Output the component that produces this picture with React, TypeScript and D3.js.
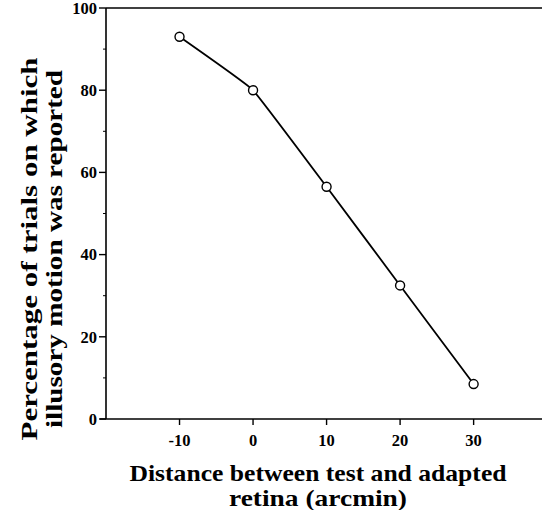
import * as d3 from 'd3'
import * as React from 'react'

// distance between test and adapted retina (arcmin)
const distances = [-10, 0, 10, 20, 30]
// percentage of trials on which illusory motion was reported
const percentages = [93, 80, 56.5, 32.5, 8.5]
const xTickValues = [-10, 0, 10, 20, 30]
const yTickValues = [0, 20, 40, 60, 80, 100]
const yMinorTicks = [10, 30, 50, 70, 90]

const W = 542
const H = 510
const serif = '"Liberation Serif", "DejaVu Serif", serif'

export default function App() {
  const x = d3.scaleLinear().domain([-20, 39.3]).range([106, 542])
  const y = d3.scaleLinear().domain([0, 100]).range([419, 8])

  const pts: [number, number][] = distances.map((d, i) => [x(d), y(percentages[i])])
  // slight bend like the hand drawn original
  const line = d3.line().curve(d3.curveCardinal.tension(0.75))(pts) || ''

  const x0 = x(-20)
  const y0 = y(0)

  return (
    <svg width={W} height={H} style={{ position: 'absolute', left: 0, top: 0, background: '#fff' }}
      fontFamily={serif}>
      {/* frame */}
      <line x1={x0} x2={x0} y1={y(100)} y2={y0} stroke="#000" strokeWidth={1.6} />
      <line x1={x0 - 6} x2={W} y1={y0} y2={y0} stroke="#000" strokeWidth={1.6} />
      <line x1={x0} x2={W} y1={y(100)} y2={y(100)} stroke="#000" strokeWidth={1.4} />

      {/* y ticks */}
      {yTickValues.map(v => (
        <g key={v}>
          <line x1={x0 - 7} x2={x0} y1={y(v)} y2={y(v)} stroke="#000" strokeWidth={1.4} />
          <text x={x0 - 9} y={y(v)} dy="0.35em" textAnchor="end" fontSize={16.5} fontWeight="bold">{v}</text>
        </g>
      ))}
      {yMinorTicks.map(v => (
        <line key={v} x1={x0 - 3} x2={x0} y1={y(v)} y2={y(v)} stroke="#000" strokeWidth={1} />
      ))}

      {/* x ticks */}
      {xTickValues.map(v => (
        <g key={v}>
          <line x1={x(v)} x2={x(v)} y1={y0} y2={y0 + 6} stroke="#000" strokeWidth={1.4} />
          <text x={x(v)} y={y0 + 27} textAnchor="middle" fontSize={16.5} fontWeight="bold">{v}</text>
        </g>
      ))}

      {/* data */}
      <path d={line} fill="none" stroke="#000" strokeWidth={1.8} />
      {pts.map((p, i) => (
        <circle key={i} cx={p[0]} cy={p[1]} r={4.5} fill="#fff" stroke="#000" strokeWidth={1.4} />
      ))}

      {/* axis titles */}
      <text x={318} y={481} textAnchor="middle" fontSize={23} fontWeight="bold"
        textLength={377} lengthAdjust="spacingAndGlyphs">Distance between test and adapted</text>
      <text x={318} y={506} textAnchor="middle" fontSize={23} fontWeight="bold"
        textLength={178} lengthAdjust="spacingAndGlyphs">retina (arcmin)</text>
      <g transform="translate(0,249) rotate(-90)">
        <text x={0} y={37} textAnchor="middle" fontSize={23} fontWeight="bold"
          textLength={383} lengthAdjust="spacingAndGlyphs">Percentage of trials on which</text>
        <text x={0} y={62} textAnchor="middle" fontSize={23} fontWeight="bold"
          textLength={358} lengthAdjust="spacingAndGlyphs">illusory motion was reported</text>
      </g>
    </svg>
  )
}
